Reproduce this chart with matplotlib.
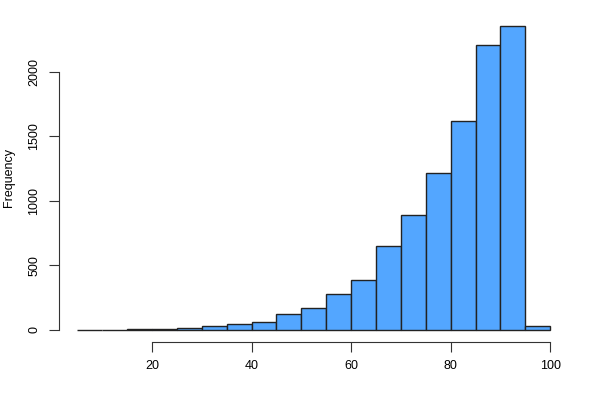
import numpy as np
import matplotlib
matplotlib.use('Agg')
import matplotlib.pyplot as plt

plt.rcParams['font.family'] = ['Liberation Sans', 'DejaVu Sans']

# histogram bins (5-wide) and counts
bin_left = [5, 10, 15, 20, 25, 30, 35, 40, 45, 50, 55, 60, 65, 70, 75, 80, 85, 90, 95]
counts = [1, 2, 3, 6, 12, 31, 46, 62, 124, 171, 279, 388, 651, 891, 1213, 1620, 2209, 2357, 31]
xticks = [20, 40, 60, 80, 100]
yticks = [0, 500, 1000, 1500, 2000]

fig = plt.figure(figsize=(6, 4), dpi=100)
ax = fig.add_axes([0.0975, 0.145, 0.851, 0.8205])

ax.bar(bin_left, counts, width=5, align='edge', color='#53A6FF',
       edgecolor='#222222', linewidth=1.0)

ax.set_xlim(1.2, 103.8)
ax.set_ylim(-94, 2451)

for s in ['top', 'right']:
    ax.spines[s].set_visible(False)
ax.spines['left'].set_bounds(0, 2000)
ax.spines['bottom'].set_bounds(20, 100)
ax.spines['left'].set_color('#333333')
ax.spines['bottom'].set_color('#333333')

ax.set_xticks(xticks)
ax.set_yticks(yticks)
ax.set_yticklabels([str(v) for v in yticks], rotation=90, va='center')
ax.tick_params(axis='both', length=7, width=0.8, color='#333333',
               labelsize=9, pad=6)
ax.set_ylabel('Frequency', fontsize=9, labelpad=10)

fig.savefig('out.png', dpi=100)
